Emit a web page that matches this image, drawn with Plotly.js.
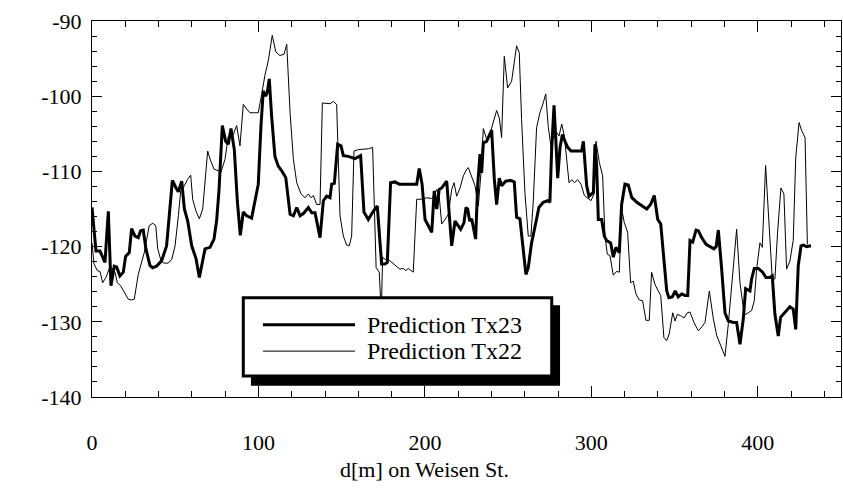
<!DOCTYPE html>
<html>
<head>
<meta charset="utf-8">
<script src="https://cdn.plot.ly/plotly-3.0.1.min.js"></script>
<style>
html,body{margin:0;padding:0;background:#fff}
#chart{width:843px;height:497px}
#chart svg text{font-family:"Liberation Serif","Times New Roman","DejaVu Serif",serif !important;}
</style>
</head>
<body>
<div id="chart"></div>
<script>
// Distance along Weisen St. [m] and predicted level for Tx23
const tx23_d = [0,2.4,4.8,7.8,9.8,11.4,13.4,14.8,16.8,18.8,20.2,22.4,23.8,25.8,27.8,29.2,30.8,32.4,34.8,36.4,38.8,41.8,44.8,46.4,48.3,50.5,51.9,53.9,55.5,57.5,59.9,62.5,64.5,67.9,70.9,73.3,74.9,76.3,78.3,80.3,81.9,83.5,85.5,87.3,89.1,90.9,92.9,95.9,97.9,99.9,101.5,102.9,104.3,105.3,106.5,107.9,109.9,111.9,113.9,116.4,119.0,121.0,123.0,125.0,127.0,130.0,132.0,134.0,137.0,139.0,141.0,143.0,144.0,145.6,147.6,149.6,151.0,154.0,158.0,161.4,163.4,166.0,169.0,171.4,174.0,176.0,177.4,179.4,182.0,184.6,188.0,192.1,195.1,196.6,198.3,200.1,201.4,204.1,205.6,207.1,208.6,210.1,213.1,214.7,216.1,218.1,219.5,221.5,223.5,224.7,225.7,226.9,228.1,230.5,231.7,233.1,234.1,235.1,237.1,240.1,241.7,243.1,244.7,246.1,248.5,251.5,253.7,255.1,257.1,259.1,260.7,262.1,264.1,266.5,268.5,271.1,273.7,275.1,276.2,277.6,279.8,281.2,282.6,284.2,285.8,287.8,291.2,294.2,295.2,297.2,298.6,301.2,302.2,303.2,304.2,306.2,307.8,309.2,311.6,313.2,314.8,316.8,318.2,320.2,322.2,324.3,327.3,330.3,333.3,335.6,337.8,339.9,341.7,343.6,345.3,346.6,348.6,350.4,352.2,354.3,356.3,357.9,359.3,360.9,362.9,364.3,366.3,368.9,371.3,373.7,375.0,376.3,378.3,380.3,382.3,385.3,387.3,389.3,391.3,392.7,395.3,396.3,397.9,400.3,402.9,404.9,407.3,408.7,410.3,412.3,413.7,416.3,419.3,421.3,422.8,424.3,426.0,427.4,429.4,432.0];
const tx23_dbm = [-114.8,-120.6,-120.6,-122.1,-115.3,-125.2,-122.6,-122.7,-123.9,-123.4,-121.3,-120.8,-117.6,-118.6,-118.8,-117.9,-117.8,-120.3,-122.5,-122.8,-122.6,-121.9,-119.9,-115.5,-111.2,-112.2,-112.7,-111.3,-115.0,-116.6,-119.9,-121.6,-124.1,-120.3,-120.1,-119.0,-116.5,-112.5,-103.9,-106.0,-106.4,-104.3,-107.1,-113.9,-118.5,-115.4,-115.9,-116.2,-113.9,-111.7,-104.0,-99.3,-100.0,-99.5,-97.7,-102.6,-108.0,-109.3,-109.9,-110.8,-115.7,-115.9,-114.8,-115.9,-115.6,-114.8,-115.5,-115.5,-118.8,-113.9,-113.3,-113.5,-111.7,-111.6,-106.4,-106.6,-107.9,-108.0,-108.3,-107.9,-115.4,-116.4,-115.3,-114.6,-122.3,-122.3,-122.1,-111.5,-111.4,-111.7,-111.7,-111.7,-111.7,-109.6,-111.7,-116.4,-117.0,-118.1,-112.6,-115.0,-112.4,-112.2,-111.3,-116.4,-119.9,-116.6,-117.0,-117.7,-116.8,-114.8,-115.0,-116.6,-116.3,-119.0,-111.9,-107.7,-110.2,-106.2,-106.0,-104.5,-111.0,-114.4,-110.9,-111.9,-111.3,-111.2,-111.4,-116.1,-116.3,-120.8,-123.7,-122.8,-119.5,-117.0,-114.8,-114.1,-113.9,-114.1,-106.8,-101.2,-110.9,-106.8,-105.1,-106.0,-106.8,-107.3,-107.3,-107.3,-106.0,-111.9,-113.3,-112.8,-106.4,-109.3,-116.4,-116.4,-118.6,-119.2,-119.5,-121.4,-120.1,-120.8,-114.4,-111.7,-111.8,-113.5,-114.1,-114.5,-115.0,-114.4,-113.2,-116.4,-117.0,-121.7,-125.9,-126.8,-126.7,-125.9,-126.7,-126.3,-126.5,-126.5,-119.2,-119.4,-117.8,-117.9,-118.8,-119.7,-120.0,-120.3,-120.0,-117.8,-123.0,-128.8,-129.9,-130.1,-130.1,-133.0,-129.6,-125.6,-125.9,-124.3,-122.9,-122.9,-123.4,-124.1,-124.1,-123.9,-129.0,-131.9,-129.4,-128.8,-128.0,-128.3,-131.0,-122.6,-119.9,-119.8,-120.0,-119.9];

// Distance along Weisen St. [m] and predicted level for Tx22
const tx22_d = [0,1.2,3.2,4.8,6.4,8.4,10.4,11.8,13.8,15.2,17.2,19.2,21.8,23.8,25.4,27.8,29.8,31.4,32.9,34.4,36.5,38.3,39.5,41.5,43.3,45.8,47.9,49.9,51.9,53.3,55.5,57.3,59.3,60.5,62.5,64.5,66.5,67.9,69.5,71.3,73.3,75.7,77.5,79.9,81.9,84.9,86.9,88.9,90.9,92.9,94.9,97.5,99.9,101.9,103.9,105.9,108.3,110.4,112.9,115.4,117.0,119.0,121.0,123.0,125.6,128.0,130.0,131.6,133.0,135.0,137.0,138.4,141.0,143.0,145.0,147.0,149.0,151.0,153.0,154.6,156.0,157.4,160.0,163.0,166.0,168.6,169.6,170.7,172.6,173.8,174.6,176.0,177.4,179.0,181.0,183.0,185.0,187.0,188.6,190.0,191.5,193.0,195.1,198.1,201.1,204.1,205.6,207.1,208.6,210.1,212.1,214.1,216.1,217.5,219.1,221.1,223.1,225.1,226.1,228.1,230.1,232.1,233.7,235.1,237.1,239.1,241.1,243.1,244.7,246.1,247.7,249.7,252.1,253.7,255.1,256.7,258.1,260.1,262.1,263.7,265.1,267.1,269.1,271.1,272.6,274.1,275.8,277.1,279.1,280.6,282.2,283.8,285.2,286.6,288.2,289.8,291.8,293.8,295.8,297.8,299.8,301.6,302.8,304.8,306.8,308.2,309.6,311.2,313.2,315.2,316.8,318.2,319.8,321.8,323.6,325.2,326.8,328.8,330.8,332.8,334.8,336.2,338.2,340.2,341.7,343.6,345.3,346.8,348.9,350.3,351.7,353.7,355.7,357.7,359.3,361.7,364.3,366.3,368.3,370.9,373.3,375.3,377.3,380.3,382.3,384.3,387.3,389.3,391.9,394.3,396.3,397.9,399.3,401.3,402.7,404.7,406.9,408.7,410.3,411.9,413.9,415.7,417.3,419.3,421.3,422.8,424.8,426.4,428.4,429.8];
const tx22_dbm = [-119.5,-122.3,-123.2,-123.3,-124.8,-124.1,-122.9,-122.8,-123.4,-124.8,-125.2,-126.0,-127.0,-127.1,-127.0,-123.7,-122.1,-120.8,-119.0,-117.2,-116.9,-117.2,-120.3,-121.9,-122.2,-122.2,-121.7,-119.9,-115.9,-112.6,-111.9,-111.1,-110.5,-113.7,-115.3,-116.3,-115.0,-111.5,-107.3,-108.6,-109.7,-109.9,-110.1,-108.4,-105.3,-105.1,-103.9,-106.6,-101.1,-101.7,-102.2,-102.2,-102.2,-99.8,-97.2,-95.3,-91.9,-94.1,-94.6,-94.4,-93.1,-102.2,-108.4,-111.5,-113.0,-113.5,-113.0,-113.5,-113.2,-114.4,-114.4,-100.9,-100.9,-101.0,-100.7,-101.1,-115.9,-118.6,-119.8,-119.9,-118.6,-107.3,-107.1,-107.1,-107.0,-106.8,-116.4,-122.8,-123.4,-129.0,-121.4,-121.7,-121.6,-121.9,-122.3,-122.6,-123.0,-122.9,-123.2,-122.9,-123.2,-123.4,-113.7,-113.7,-113.5,-113.6,-113.3,-112.4,-113.3,-117.0,-116.4,-115.7,-112.4,-111.5,-113.3,-112.2,-110.6,-109.7,-109.5,-110.6,-111.9,-114.6,-110.2,-104.3,-105.7,-105.0,-103.3,-101.9,-102.9,-105.5,-94.7,-98.9,-98.0,-95.8,-93.3,-94.2,-103.1,-112.8,-118.6,-118.6,-114.1,-104.2,-102.2,-100.9,-99.7,-104.0,-106.8,-105.5,-104.8,-105.3,-103.7,-105.3,-108.4,-111.5,-111.1,-111.5,-111.1,-111.7,-113.2,-113.5,-113.9,-113.0,-106.0,-108.8,-110.6,-118.6,-121.0,-121.2,-123.8,-123.3,-123.4,-115.0,-116.8,-118.1,-124.8,-124.6,-126.3,-127.1,-127.2,-129.8,-129.8,-123.4,-125.0,-125.9,-126.5,-132.1,-132.5,-131.6,-128.8,-129.9,-129.0,-129.2,-129.5,-128.8,-128.7,-130.1,-131.2,-130.7,-130.1,-125.9,-129.6,-131.8,-133.0,-134.6,-130.3,-125.2,-117.7,-124.8,-129.1,-128.8,-128.5,-127.2,-123.0,-119.5,-120.1,-109.2,-118.1,-124.3,-124.3,-118.1,-112.2,-113.0,-123.0,-121.9,-119.2,-108.2,-103.5,-104.6,-105.5,-119.7];

const seriesNames = ["Prediction Tx23", "Prediction Tx22"];
const xTitle = "d[m] on Weisen St.";
const xTickVals = [0, 100, 200, 300, 400];
const xTickText = ["0", "100", "200", "300", "400"];
const yTickVals = [-140, -130, -120, -110, -100, -90];
const yTickText = ["-140", "-130", "-120", "-110", "-100", "-90"];

const serif = "Liberation Serif";
const font = {family: serif, size: 22, color: "#000"};

const traces = [
  {x: tx23_d, y: tx23_dbm, type: "scatter", mode: "lines", name: seriesNames[0],
   line: {color: "#000", width: 3}},
  {x: tx22_d, y: tx22_dbm, type: "scatter", mode: "lines", name: seriesNames[1],
   line: {color: "#000", width: 1}}
];

// Legend frame (drawn manually to reproduce the shadowed box)
const shapes = [
  {type: "rect", xref: "x", yref: "y", x0: 95.5, x1: 281.2, y0: -127.8, y1: -138.5,
   fillcolor: "#000", line: {width: 0}, layer: "above"},
  {type: "rect", xref: "x", yref: "y", x0: 90.9, x1: 276.2, y0: -126.8, y1: -137.2,
   fillcolor: "#fff", line: {color: "#000", width: 3}, layer: "above"},
  {type: "line", xref: "x", yref: "y", x0: 102.7, x1: 158, y0: -130.4, y1: -130.4,
   line: {color: "#000", width: 3}, layer: "above"},
  {type: "line", xref: "x", yref: "y", x0: 102.7, x1: 158, y0: -133.9, y1: -133.9,
   line: {color: "#000", width: 1}, layer: "above"}
];

const annotations = [
  {xref: "x", yref: "y", x: 164, y: -130.4, xanchor: "left", yanchor: "middle",
   text: seriesNames[0], showarrow: false, font: {family: serif, size: 24, color: "#000"}},
  {xref: "x", yref: "y", x: 164, y: -133.9, xanchor: "left", yanchor: "middle",
   text: seriesNames[1], showarrow: false, font: {family: serif, size: 24, color: "#000"}},
  {xref: "x", yref: "paper", x: 200, y: -0.194, xanchor: "center", yanchor: "middle",
   text: xTitle, showarrow: false, font: font}
];

const layout = {
  width: 843, height: 497,
  margin: {l: 92, r: 2, t: 21, b: 100, pad: 0},
  paper_bgcolor: "#fff", plot_bgcolor: "#fff",
  font: font,
  showlegend: false,
  xaxis: {
    range: [0, 450], tickmode: "array", tickvals: xTickVals, ticktext: xTickText,
    ticks: "inside", ticklen: 11, tickwidth: 1, tickcolor: "#000",
    minor: {tickmode: "linear", tick0: 0, dtick: 20, ticks: "inside", ticklen: 6, tickwidth: 1, tickcolor: "#000"},
    showline: true, linecolor: "#000", linewidth: 1, mirror: "ticks",
    showgrid: false, zeroline: false, ticklabelstandoff: 26,
    tickfont: font
  },
  yaxis: {
    range: [-140, -90], tickmode: "array", tickvals: yTickVals, ticktext: yTickText,
    ticks: "inside", ticklen: 10, tickwidth: 1, tickcolor: "#000",
    minor: {tickmode: "linear", tick0: -140, dtick: 2, ticks: "inside", ticklen: 5, tickwidth: 1, tickcolor: "#000"},
    showline: true, linecolor: "#000", linewidth: 1, mirror: "ticks",
    showgrid: false, zeroline: false, ticklabelstandoff: 5,
    tickfont: font
  },
  shapes: shapes,
  annotations: annotations
};

Plotly.newPlot("chart", traces, layout, {staticPlot: true, displayModeBar: false});
</script>
</body>
</html>
